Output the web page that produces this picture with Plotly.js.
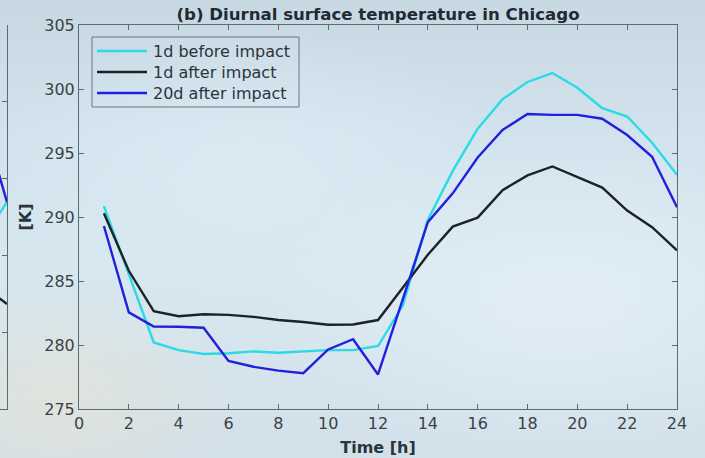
<!DOCTYPE html>
<html>
<head>
<meta charset="utf-8">
<script src="https://cdn.plot.ly/plotly-3.0.1.min.js"></script>
<style>
html,body{margin:0;padding:0;}
#bg{position:absolute;left:0;top:0;width:705px;height:458px;
background:
 radial-gradient(ellipse 180px 120px at 60px 400px, rgba(235,228,205,0.5), rgba(235,228,205,0) 100%),
 radial-gradient(ellipse 300px 160px at 560px 300px, rgba(228,240,247,0.8), rgba(228,240,247,0) 100%),
 radial-gradient(ellipse 260px 140px at 250px 170px, rgba(222,236,245,0.7), rgba(222,236,245,0) 100%),
 linear-gradient(180deg, #c8d8e2 0%, #d3e3ed 30%, #d7e7f0 60%, #d2e0e9 100%);}
#chart{position:absolute;left:0;top:0;width:705px;height:458px;}
</style>
</head>
<body>
<div id="bg"></div>
<div id="chart"></div>
<script>
// Panel (b): Chicago diurnal surface temperature [K]
const hours = [1,2,3,4,5,6,7,8,9,10,11,12,13,14,15,16,17,18,19,20,21,22,23,24];
const before1d = [290.85,285.5,280.2,279.6,279.3,279.35,279.5,279.4,279.48,279.6,279.6,279.92,283.1,289.77,293.6,296.9,299.2,300.55,301.25,300.1,298.5,297.85,295.8,293.3];
const after1d  = [290.3,285.8,282.65,282.25,282.4,282.35,282.2,281.95,281.8,281.58,281.6,281.95,284.5,287.05,289.25,289.95,292.1,293.25,293.95,293.15,292.3,290.5,289.2,287.4];
const after20d = [289.3,282.55,281.45,281.43,281.35,278.75,278.3,278.0,277.8,279.65,280.45,277.7,283.6,289.6,291.85,294.65,296.8,298.05,297.98,297.98,297.68,296.4,294.7,290.77];
const seriesNames = ['1d before impact','1d after impact','20d after impact'];
const xTicks = [0,2,4,6,8,10,12,14,16,18,20,22,24];
const yTicks = [275,280,285,290,295,300,305];

// Visible edge of neighbouring panel (a)
const hoursA = [23,24];
const before1dA = [281.04,283.47];
const after1dA = [278.05,276.84];
const after20dA = [289.1,283.47];

const colors = ['#2adbe5','#1b2329','#2020dd'];
const lw = 2.4;

const traces = [
  {x:hours,y:before1d,name:seriesNames[0],mode:'lines',line:{color:colors[0],width:lw},xaxis:'x',yaxis:'y'},
  {x:hours,y:after1d,name:seriesNames[1],mode:'lines',line:{color:colors[1],width:lw},xaxis:'x',yaxis:'y'},
  {x:hours,y:after20d,name:seriesNames[2],mode:'lines',line:{color:colors[2],width:lw},xaxis:'x',yaxis:'y'},
  {x:hoursA,y:before1dA,mode:'lines',showlegend:false,line:{color:colors[0],width:lw},xaxis:'x2',yaxis:'y2'},
  {x:hoursA,y:after1dA,mode:'lines',showlegend:false,line:{color:colors[1],width:lw},xaxis:'x2',yaxis:'y2'},
  {x:hoursA,y:after20dA,mode:'lines',showlegend:false,line:{color:colors[2],width:lw},xaxis:'x2',yaxis:'y2'}
];

const axColor = '#5d6870';
const tickFont = {family:'DejaVu Sans', size:16, color:'#3a4248'};
const W = 677, H = 384, T = 25;
const px = v => v / W;            // paper x from pixel
const py = v => 1 - (v - T) / H;  // paper y from pixel

// Legend drawn as a box with line samples and labels (matches the original's compact spacing)
const legRows = [51, 72, 93];
const shapes = [{type:'rect', xref:'paper', yref:'paper', x0:px(92), x1:px(299), y0:py(37), y1:py(107),
  line:{color:'#6a747b', width:1}, fillcolor:'rgba(0,0,0,0)'}];
const annotations = [];
seriesNames.forEach((nm, i) => {
  shapes.push({type:'line', xref:'paper', yref:'paper', x0:px(97), x1:px(147), y0:py(legRows[i]), y1:py(legRows[i]),
    line:{color:colors[i], width:2.6}});
  annotations.push({xref:'paper', yref:'paper', x:px(151), y:py(legRows[i]), xanchor:'left', yanchor:'middle',
    text:nm, showarrow:false, font:{family:'DejaVu Sans', size:16, color:'#2a343b'}});
});

const layout = {
  width:705, height:458,
  margin:{l:0,r:28,t:25,b:49},
  paper_bgcolor:'rgba(0,0,0,0)', plot_bgcolor:'rgba(0,0,0,0)',
  showlegend:false,
  title:{text:'<b>(b) Diurnal surface temperature in Chicago</b>', font:{family:'DejaVu Sans',size:16.6,color:'#1f2a33'}, x:(79+677)/2/705, xanchor:'center', y:1-14/458, yanchor:'middle'},
  xaxis:{domain:[79/W,1], range:[0,24], tickvals:xTicks, ticktext:xTicks.map(String), ticks:'inside', ticklen:5, tickcolor:axColor,
    showline:true, linecolor:axColor, linewidth:1, mirror:'ticks', showgrid:false, zeroline:false, tickfont:tickFont,
    title:{text:'<b>Time [h]</b>', font:{family:'DejaVu Sans',size:16,color:'#2a343b'}, standoff:9}},
  yaxis:{domain:[0,1], range:[275,305], tickvals:yTicks, ticktext:yTicks.map(String), ticks:'inside', ticklen:5, tickcolor:axColor,
    showline:true, linecolor:axColor, linewidth:1, mirror:'ticks', showgrid:false, zeroline:false, tickfont:tickFont,
    title:{text:'<b>[K]</b>', font:{family:'DejaVu Sans',size:16,color:'#2a343b'}, standoff:8}},
  xaxis2:{domain:[0,7/W], range:[24-7/24.92,24], anchor:'y2', tickvals:[24], ticktext:['24'], ticks:'inside', ticklen:5, tickcolor:axColor,
    showline:true, linecolor:axColor, linewidth:1, showgrid:false, zeroline:false, tickfont:tickFont},
  yaxis2:{domain:[0,1], range:[270,295], anchor:'x2', side:'right', dtick:5, ticks:'inside', ticklen:5, tickcolor:axColor,
    showticklabels:false, showline:true, linecolor:axColor, linewidth:1, showgrid:false, zeroline:false},
  shapes: shapes,
  annotations: annotations
};

Plotly.newPlot('chart', traces, layout, {displayModeBar:false, staticPlot:true});
</script>
</body>
</html>
